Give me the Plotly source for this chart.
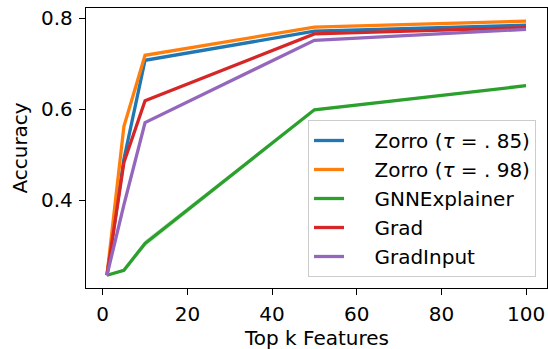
import plotly.graph_objects as go

top_k = [1, 5, 10, 50, 100]
zorro_85 = [0.235, 0.49, 0.708, 0.772, 0.785]
zorro_98 = [0.235, 0.562, 0.719, 0.781, 0.794]
gnnexplainer = [0.235, 0.246, 0.305, 0.599, 0.652]
gnnexplainer_lo = [0.232, 0.243, 0.298, 0.596, 0.650]
gnnexplainer_hi = [0.238, 0.249, 0.312, 0.602, 0.654]
grad = [0.235, 0.483, 0.619, 0.766, 0.780]
gradinput = [0.235, 0.39, 0.571, 0.752, 0.776]

NB = "\u00a0\u00a0\u00a0\u00a0"
names = [NB + "Zorro (<i>τ</i> = . 85)", NB + "Zorro (<i>τ</i> = . 98)", NB + "GNNExplainer",
         NB + "Grad", NB + "GradInput"]
colors = ["#1f77b4", "#ff7f0e", "#2ca02c", "#d62728", "#9467bd"]
series = [zorro_85, zorro_98, gnnexplainer, grad, gradinput]

FONT = "DejaVu Sans"
FS = 20
fig = go.Figure()

# faint band around GNNExplainer
fig.add_trace(go.Scatter(x=top_k, y=gnnexplainer_hi, mode="lines", line=dict(width=0),
                         showlegend=False, hoverinfo="skip"))
fig.add_trace(go.Scatter(x=top_k, y=gnnexplainer_lo, mode="lines", line=dict(width=0),
                         fill="tonexty", fillcolor="rgba(44,160,44,0.2)",
                         showlegend=False, hoverinfo="skip"))

for name, col, ys in zip(names, colors, series):
    fig.add_trace(go.Scatter(x=top_k, y=ys, mode="lines", name=name,
                             line=dict(color=col, width=3.3)))

axis_common = dict(
    showline=True, linecolor="black", linewidth=1.3, mirror=True,
    ticks="outside", ticklen=6, tickwidth=1.2, tickcolor="black",
    showgrid=False, zeroline=False, automargin=False, ticklabeloverflow="allow",
    tickfont=dict(family=FONT, size=FS, color="black"),
)

fig.update_layout(
    width=548, height=349,
    margin=dict(l=86, r=1, t=8, b=60.5),
    paper_bgcolor="white", plot_bgcolor="white",
    font=dict(family=FONT, size=FS, color="black"),
    xaxis=dict(range=[-3.95, 104.95], tickvals=[0, 20, 40, 60, 80, 100],
               ticklabelstandoff=2, **axis_common),
    yaxis=dict(range=[0.207, 0.823], tickvals=[0.4, 0.6, 0.8], ticktext=["0.4", "0.6", "0.8"],
               ticklabelstandoff=2, **axis_common),
    legend=dict(x=0.4816, y=0.60, xanchor="left", yanchor="top",
                bgcolor="rgba(255,255,255,0.8)", bordercolor="#cccccc", borderwidth=1,
                font=dict(family=FONT, size=FS, color="black"), traceorder="normal",
                tracegroupgap=0, entrywidth=186, entrywidthmode="pixels"),
    showlegend=True,
    annotations=[
        dict(text="Top k Features", xref="paper", yref="paper", x=0.5, y=-0.18,
             xanchor="center", yanchor="middle", showarrow=False,
             font=dict(family=FONT, size=FS, color="black")),
        dict(text="Accuracy", xref="paper", yref="paper", x=-0.144, y=0.5,
             xanchor="center", yanchor="middle", showarrow=False, textangle=-90,
             font=dict(family=FONT, size=FS, color="black")),
    ],
)

fig.write_html("out.html", config={"displayModeBar": False},
               post_script="document.body.style.margin='0';document.body.style.overflow='hidden';")
